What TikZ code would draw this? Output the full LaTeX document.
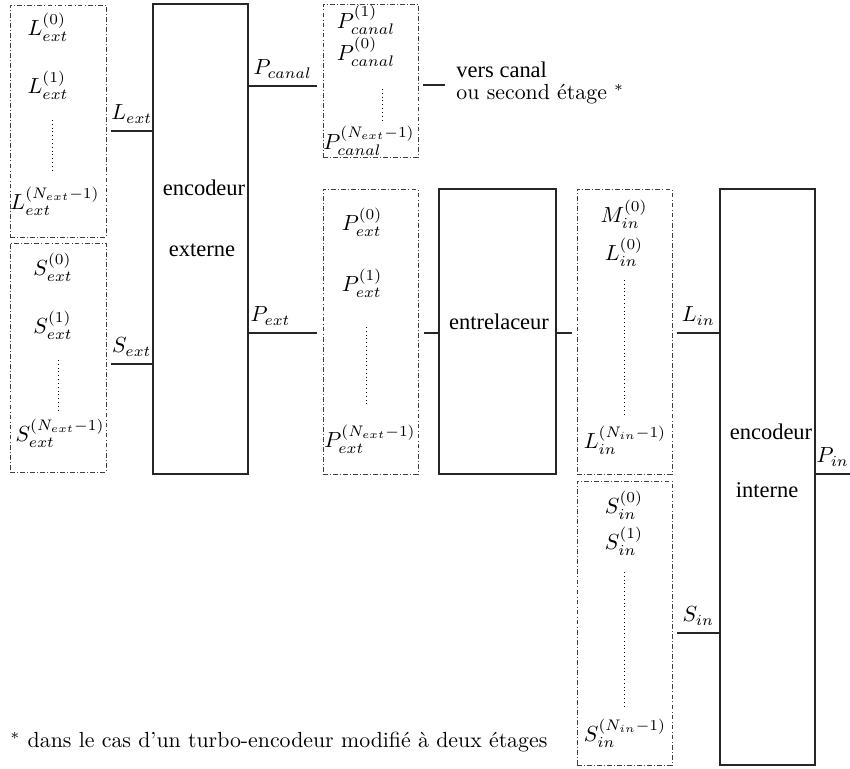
\documentclass[tikz,border=0pt]{standalone}
\usepackage{fontspec}
\newfontfamily\tms{Liberation Serif}
\usetikzlibrary{fit,calc}
\begin{document}
\begin{tikzpicture}[x=0.458pt,y=-0.458pt,
  dbox/.style={draw=black!75, line width=0.4pt, dash pattern=on 2.2pt off 1pt on 0.4pt off 1pt, inner sep=0pt},
  sbox/.style={draw=black!85, line width=0.5pt, inner sep=0pt},
  wire/.style={draw=black!85, line width=0.5pt},
  dotl/.style={draw=black, line width=0.45pt, dash pattern=on 0.45pt off 1.3pt},
  lbl/.style={inner sep=0pt},
  tlab/.style={font=\tms\fontsize{10.3}{12}\selectfont, inner sep=0pt}]
\useasboundingbox (0,0) rectangle (850,769);

% ---------- left column: L_ext and S_ext registers
\node[dbox, fit={(10,5) (106,237)}] (Lbox) {};
\node[dbox, fit={(10,243) (106,472)}] (Sbox) {};
\node[lbl] (l0) at (48,27) {$L_{ext}^{(0)}$};
\node[lbl] (l1) at (48,85) {$L_{ext}^{(1)}$};
\node[lbl] (lN) at (55,201) {$L_{ext}^{(N_{ext}-1)}$};
\coordinate (ld1) at (52,120); \coordinate (ld2) at (52,172);
\draw[dotl] (ld1) -- (ld2);
\node[lbl] (s0) at (53,267) {$S_{ext}^{(0)}$};
\node[lbl] (s1) at (53,325) {$S_{ext}^{(1)}$};
\node[lbl] (sN) at (60,433) {$S_{ext}^{(N_{ext}-1)}$};
\coordinate (sd1) at (58,360); \coordinate (sd2) at (58,412);
\draw[dotl] (sd1) -- (sd2);

% ---------- encodeur externe
\node[sbox, fit={(153,4) (248,474)}] (encext) {};
\node[tlab] (ee1) at (204,188) {encodeur};
\node[tlab] (ee2) at (202,250) {externe};

\coordinate (lext) at (111,131);
\draw[wire] (lext) -- node[above] {$L_{ext}$} (lext -| encext.west);
\coordinate (sext) at (111,364);
\draw[wire] (sext) -- node[above] {$S_{ext}$} (sext -| encext.west);

% ---------- P_canal register
\node[dbox, fit={(323,4) (418,157)}] (Pcbox) {};
\node[lbl] (pc1) at (366,20) {$P_{canal}^{(1)}$};
\node[lbl] (pc0) at (366,52) {$P_{canal}^{(0)}$};
\node[lbl] (pcN) at (369,141) {$P_{canal}^{(N_{ext}-1)}$};
\coordinate (pcd1) at (382,89); \coordinate (pcd2) at (382,121);
\draw[dotl] (pcd1) -- (pcd2);
\coordinate (pcan) at (317,86);
\draw[wire] (encext.east |- pcan) -- node[above] {$P_{canal}$} (pcan);
\coordinate (vc1) at (423,85); \coordinate (vc2) at (445,85);
\draw[wire] (vc1) -- (vc2);
\node[tlab, anchor=west] (vers) at (456,70) {vers canal};
\node[lbl, anchor=west] (ou) at (456,94) {ou second étage $^{*}$};

% ---------- P_ext register
\node[dbox, fit={(323,189) (418,474)}] (Pebox) {};
\node[lbl] (pe0) at (362,222) {$P_{ext}^{(0)}$};
\node[lbl] (pe1) at (362,283) {$P_{ext}^{(1)}$};
\node[lbl] (peN) at (370,439) {$P_{ext}^{(N_{ext}-1)}$};
\coordinate (ped1) at (366,327); \coordinate (ped2) at (366,407);
\draw[dotl] (ped1) -- (ped2);
\coordinate (pext) at (317,333);
\draw[wire] (encext.east |- pext) -- node[above, pos=0.32] {$P_{ext}$} (pext);

% ---------- entrelaceur
\node[sbox, fit={(439,189) (556,474)}] (entr) {};
\node[tlab] (entrt) at (499,322) {entrelaceur};
\coordinate (e1) at (424,333);
\draw[wire] (e1) -- (e1 -| entr.west);
\coordinate (e2) at (572,333);
\draw[wire] (entr.east |- e2) -- (e2);

% ---------- L_in and S_in registers
\node[dbox, fit={(577,189) (672,474)}] (Linbox) {};
\node[lbl] (m0) at (624,214) {$M_{in}^{(0)}$};
\node[lbl] (li0) at (624,252) {$L_{in}^{(0)}$};
\node[lbl] (liN) at (625,440) {$L_{in}^{(N_{in}-1)}$};
\coordinate (lid1) at (624,280); \coordinate (lid2) at (624,417);
\draw[dotl] (lid1) -- (lid2);
\node[dbox, fit={(577,481) (672,765)}] (Sinbox) {};
\node[lbl] (si0) at (624,505) {$S_{in}^{(0)}$};
\node[lbl] (si1) at (624,541) {$S_{in}^{(1)}$};
\node[lbl] (siN) at (625,733) {$S_{in}^{(N_{in}-1)}$};
\coordinate (sid1) at (624,572); \coordinate (sid2) at (624,707);
\draw[dotl] (sid1) -- (sid2);

% ---------- encodeur interne
\node[sbox, fit={(720,189) (815,765)}] (encint) {};
\node[tlab] (ei1) at (771,432) {encodeur};
\node[tlab] (ei2) at (767,490) {interne};
\coordinate (lin) at (677,333);
\draw[wire] (lin) -- node[above] {$L_{in}$} (lin -| encint.west);
\coordinate (sin) at (677,633);
\draw[wire] (sin) -- node[above] {$S_{in}$} (sin -| encint.west);
\coordinate (pin) at (850,474);
\draw[wire] (encint.east |- pin) -- node[above] {$P_{in}$} (pin);

% ---------- footnote
\node[lbl, anchor=west] (fn) at (10,742) {$^{*}$ dans le cas d'un turbo-encodeur modifié à deux étages};
\end{tikzpicture}
\end{document}
